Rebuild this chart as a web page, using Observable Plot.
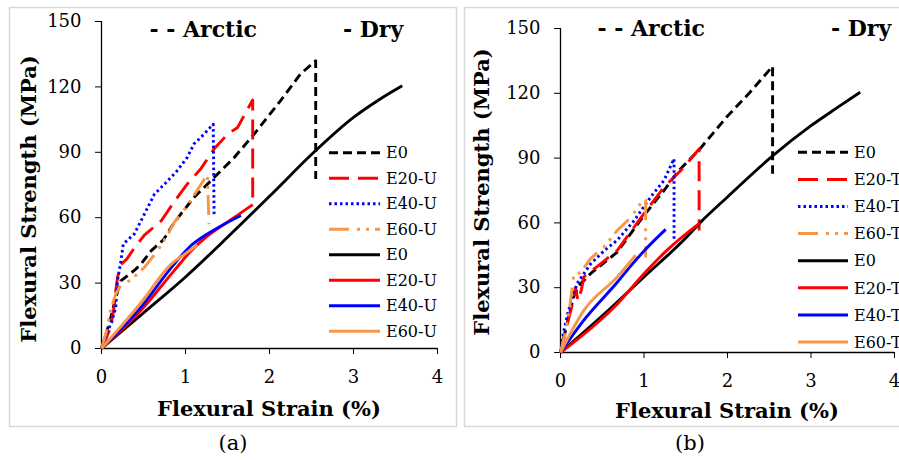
<!DOCTYPE html>
<html><head><meta charset="utf-8">
<script src="https://cdn.jsdelivr.net/npm/d3@7"></script>
<script src="https://cdn.jsdelivr.net/npm/@observablehq/plot@0.6"></script>
<style>
html,body{margin:0;padding:0;background:#fff;}
#root{position:relative;width:899px;height:460px;overflow:hidden;background:#fff;}
.panel{position:absolute;top:0;}
.panel svg text{font-family:"DejaVu Serif", Georgia, serif !important;font-size:18px !important;fill:#000;}
#ov{position:absolute;left:0;top:0;pointer-events:none;}
</style></head>
<body><div id="root"><div id="pa" class="panel" style="left:0"></div><div id="pb" class="panel" style="left:450px"></div><svg id="ov" width="899" height="460"></svg></div>
<script>
// ---------- DATA: [strain %, stress MPa] ----------
// Panel (a): Arctic (dashed styles)
const arcticA_E0  = [[0,0],[0.05,6],[0.11,14],[0.17,23.4],[0.23,31],[0.39,35.8],[0.47,38.7],[0.59,44.8],[0.74,50],[0.86,57.5],[1.10,69.3],[1.34,78.4],[1.58,87.6],[1.82,98.5],[2.13,113.6],[2.37,126],[2.55,132],[2.55,77.8]];
const arcticA_E20 = [[0,0],[0.06,5],[0.11,10],[0.15,19],[0.17,26.5],[0.19,32.5],[0.23,38.5],[0.30,41],[0.39,46],[0.51,52],[0.71,58.5],[0.86,67],[1.02,75.4],[1.18,82.3],[1.34,91.5],[1.50,98.3],[1.62,101.4],[1.80,114],[1.80,65]];
const arcticA_E40 = [[0,0],[0.05,6],[0.12,12],[0.17,18.8],[0.19,31],[0.23,40],[0.26,48],[0.39,52.5],[0.51,61.6],[0.63,70.8],[0.75,75.4],[0.90,81.5],[1.02,87.6],[1.10,93.8],[1.22,98.3],[1.33,102.9],[1.34,61.5]];
const arcticA_E60 = [[0,0],[0.06,8],[0.11,18],[0.17,25],[0.23,29],[0.35,31.5],[0.51,37.2],[0.67,45],[0.80,53],[0.86,57.5],[1.02,65.5],[1.18,75],[1.26,80],[1.28,57]];
// Panel (a): Dry (solid)
const dryA_E0  = [[0,0],[0.5,16.3],[1.0,32.8],[1.5,51],[2.0,69.8],[2.55,90.8],[3.0,106],[3.3,114],[3.58,120.5]];
const dryA_E20 = [[0,0],[0.47,17.5],[0.86,35.5],[1.06,44.5],[1.26,51.5],[1.46,57],[1.65,62],[1.80,66]];
const dryA_E40 = [[0,0],[0.47,19],[0.86,38.5],[1.06,47],[1.26,52.5],[1.46,57],[1.66,61]];
const dryA_E60 = [[0,0],[0.47,21],[0.83,38.7],[1.0,43.5],[1.14,47.5]];
// Panel (b): Arctic (dashed styles)
const arcticB_E0  = [[0,0],[0.04,7],[0.08,13.5],[0.12,20],[0.16,26],[0.22,31],[0.36,36.5],[0.68,46.5],[1.0,63.5],[1.24,75],[1.40,83.5],[1.67,94.3],[1.99,109],[2.27,120.5],[2.54,132.5],[2.54,82.8]];
const arcticB_E20 = [[0,0],[0.05,8],[0.10,16],[0.14,22],[0.18,30],[0.21,24],[0.25,29],[0.28,35],[0.48,41],[0.68,47.3],[1.0,64.3],[1.24,76.6],[1.48,85.8],[1.66,94.3],[1.66,56.5]];
const arcticB_E40 = [[0,0],[0.04,10],[0.08,17],[0.12,22.7],[0.20,32],[0.36,41],[0.52,47],[0.68,52],[0.88,61],[1.08,72],[1.24,79.7],[1.36,89.7],[1.36,52.7]];
const arcticB_E60 = [[0,0],[0.05,8],[0.10,18],[0.14,30],[0.16,36],[0.24,37],[0.36,43.5],[0.52,48.8],[0.68,56.5],[0.84,62.5],[0.96,69],[1.02,70.5],[1.02,44]];
// Panel (b): Dry (solid)
const dryB_E0  = [[0,0],[0.5,17],[1.0,35],[1.5,53],[1.67,60],[2.0,72],[2.54,91],[3.0,105],[3.3,113],[3.59,120.5]];
const dryB_E20 = [[0,0],[0.68,22.5],[1.0,36.5],[1.28,47.5],[1.67,60]];
const dryB_E40 = [[0,0],[0.28,15],[0.68,32.5],[0.84,40],[1.0,47],[1.26,57]];
const dryB_E60 = [[0,0],[0.28,19.5],[0.68,35],[0.90,45]];

const xTicks = [0,1,2,3,4];
const yTicks = [0,30,60,90,120,150];
const labelsA = ["E0","E20-U","E40-U","E60-U","E0","E20-U","E40-U","E60-U"];
const labelsB = ["E0","E20-T","E40-T","E60-T","E0","E20-T","E40-T","E60-T"];
const panelTags = ["(a)","(b)"];

// ---------- STYLES ----------
const FONT = '"DejaVu Serif", Georgia, serif';
const ORANGE = "#f79646";
const styles = [
  {stroke:"#000",   dash:"9 5"},
  {stroke:"#ff0000",dash:"20 9"},
  {stroke:"#0000ff",dash:"2.5 3"},
  {stroke:ORANGE,   dash:"20 8 3 6 3 6"},
  {stroke:"#000",   dash:null},
  {stroke:"#ff0000",dash:null},
  {stroke:"#0000ff",dash:null},
  {stroke:ORANGE,   dash:null}
];

function makePanel(series, m, w) {
  const marks = [
    Plot.ruleX([0], {strokeWidth:1.3}),
    Plot.ruleY([0], {strokeWidth:1.3}),
    Plot.axisX({ticks:xTicks, tickSize:6, tickPadding:16, label:null, fontSize:18, tickFormat:d=>String(d)}),
    Plot.axisY({ticks:yTicks, tickSize:6, tickPadding:14, label:null, fontSize:18, tickFormat:d=>String(d)})
  ];
  series.forEach((s,i)=>{
    const st = styles[i];
    marks.push(Plot.line(s, {x:d=>d[0], y:d=>d[1], stroke:st.stroke, strokeWidth:2.9,
      curve: st.dash ? "linear" : "monotone-x",
      strokeDasharray:st.dash||undefined, strokeLinecap:"butt", strokeLinejoin:"round"}));
  });
  return Plot.plot({
    width:w, height:460,
    marginLeft:m.l, marginRight:m.r, marginTop:m.t, marginBottom:m.b,
    x:{domain:[0,4]}, y:{domain:[0,150]},
    style:{fontFamily:FONT, fontSize:"18px", color:"#000", background:"transparent", overflow:"visible"},
    marks
  });
}

document.getElementById("pa").appendChild(makePanel(
  [arcticA_E0,arcticA_E20,arcticA_E40,arcticA_E60,dryA_E0,dryA_E20,dryA_E40,dryA_E60],
  {l:101,r:13,t:21,b:112}, 450));
document.getElementById("pb").appendChild(makePanel(
  [arcticB_E0,arcticB_E20,arcticB_E40,arcticB_E60,dryB_E0,dryB_E20,dryB_E40,dryB_E60],
  {l:110,r:5,t:28,b:108}, 449));

// ---------- Annotations ----------
const ov = d3.select("#ov");
ov.append("rect").attr("x",9.5).attr("y",7.5).attr("width",447).attr("height",419)
  .attr("fill","none").attr("stroke","#d9d9d9").attr("stroke-width",1.5);
ov.append("rect").attr("x",464.5).attr("y",7.5).attr("width",450).attr("height",419)
  .attr("fill","none").attr("stroke","#d9d9d9").attr("stroke-width",1.5);

const layout = [
  {arcticEnd:257, dryStart:343, titleY:37, yLabX:36, yLabY:199, xLabX:269, xLabY:416, tagX:233, tagY:450,
   legLine:[329,380], legText:386, legY0:152.7, legDy:25.5, labels:labelsA, tag:panelTags[0]},
  {arcticEnd:705, dryStart:831, titleY:36, yLabX:489, yLabY:192, xLabX:727, xLabY:418, tagX:690, tagY:450,
   legLine:[798,848], legText:854, legY0:152.3, legDy:27.1, labels:labelsB, tag:panelTags[1]}
];
layout.forEach(L=>{
  const bold = sel=>sel.attr("font-family",FONT).attr("font-weight","bold").attr("fill","#000");
  bold(ov.append("text")).attr("x",L.arcticEnd).attr("y",L.titleY).attr("text-anchor","end")
    .attr("font-size",22).text("- - Arctic");
  bold(ov.append("text")).attr("x",L.dryStart).attr("y",L.titleY).attr("text-anchor","start")
    .attr("font-size",22).text("- Dry");
  bold(ov.append("text")).attr("transform",`translate(${L.yLabX},${L.yLabY}) rotate(-90)`)
    .attr("text-anchor","middle").attr("font-size",21).text("Flexural Strength (MPa)");
  bold(ov.append("text")).attr("x",L.xLabX).attr("y",L.xLabY).attr("text-anchor","middle")
    .attr("font-size",21).text("Flexural Strain (%)");
  ov.append("text").attr("x",L.tagX).attr("y",L.tagY).attr("text-anchor","middle")
    .attr("font-family",FONT).attr("font-size",21).attr("fill","#000").text(L.tag);
  L.labels.forEach((lab,i)=>{
    const y = L.legY0 + i*L.legDy, st = styles[i];
    ov.append("line").attr("x1",L.legLine[0]).attr("x2",L.legLine[1]).attr("y1",y).attr("y2",y)
      .attr("stroke",st.stroke).attr("stroke-width",3).attr("stroke-dasharray",st.dash||null);
    ov.append("text").attr("x",L.legText).attr("y",y).attr("dy","0.36em")
      .attr("font-family",FONT).attr("font-size",16).attr("fill","#000").text(lab);
  });
});
</script>
</body></html>
